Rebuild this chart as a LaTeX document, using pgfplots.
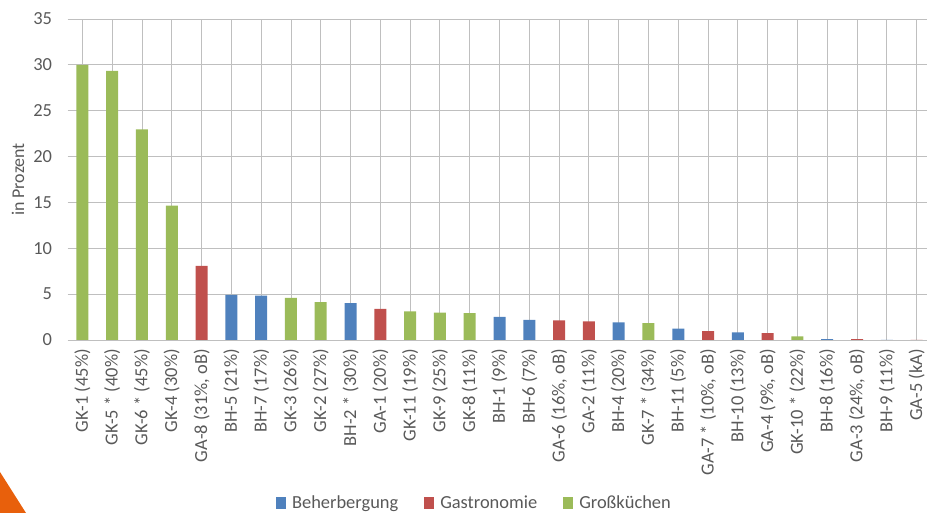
\documentclass[border=0pt]{standalone}
\usepackage{pgfplots}
\pgfplotsset{compat=1.18}
\usepackage{fontspec}
\setmainfont{Carlito}
\definecolor{txt}{HTML}{595959}
\definecolor{grid}{HTML}{D9D9D9}
\definecolor{cBH}{HTML}{4F81BD}
\definecolor{cGA}{HTML}{C0504D}
\definecolor{cGK}{HTML}{9BBB59}
\definecolor{deco}{HTML}{E8600C}
\begin{document}
\begin{tikzpicture}[x=1bp,y=1bp]
\useasboundingbox (0,0) rectangle (927,513);
% orange corner decoration
\fill[deco] (0,41) -- (26,0) -- (0,0) -- cycle;
\begin{axis}[
  at={(67.5bp,173bp)}, anchor=south west,
  scale only axis, width=864bp, height=321bp,
  xmin=-0.5, xmax=28.5, ymin=0, ymax=35,
  ytick={0,5,...,35},
  xtick={0,...,28},
  xticklabels={GK-1 (45\%), GK-5 * (40\%), GK-6 * (45\%), GK-4 (30\%), {GA-8 (31\%, oB)}, BH-5 (21\%), BH-7 (17\%), GK-3 (26\%), GK-2 (27\%), BH-2 * (30\%), GA-1 (20\%), GK-11 (19\%), GK-9 (25\%), GK-8 (11\%), BH-1 (9\%), BH-6 (7\%), {GA-6 (16\%, oB)}, GA-2 (11\%), BH-4 (20\%), GK-7 * (34\%), BH-11 (5\%), {GA-7 * (10\%, oB)}, BH-10 (13\%), {GA-4 (9\%, oB)}, GK-10 * (22\%), BH-8 (16\%), {GA-3 (24\%, oB)}, BH-9 (11\%), GA-5 (kA)},
  axis line style={draw=none},
  axis x line*=bottom,
  ymajorgrids, grid style={grid, line width=0.9bp},
  major tick length=0pt,
  tick label style={font=\fontsize{18.5}{19}\selectfont, text=txt},
  yticklabel style={xshift=-12bp},
  xticklabel style={yshift=-9bp, rotate=90, anchor=east, inner sep=0bp},
  /pgf/number format/assume math mode=true,
  ylabel={in Prozent},
  every axis y label/.style={at={(axis description cs:0,0.5)}, xshift=-49.5bp, rotate=90, anchor=center, font=\fontsize{18}{19}\selectfont, text=txt},
  ybar, bar width=12bp, bar shift=0pt,
  legend style={at={(axis description cs:0.471,-0.508)}, anchor=center, legend columns=3, draw=none, fill=none,
    font=\fontsize{18.5}{19}\selectfont, text=txt,
    /tikz/every odd column/.append style={column sep=4bp},
    /tikz/every even column/.append style={column sep=24bp}},
  legend image code/.code={\fill[#1] (0bp,-6bp) rectangle (10bp,6bp);},
]
\draw[grid, line width=0.9bp] (axis cs:-0.5,0) -- (axis cs:28.5,0);
\addplot[fill=cBH, draw=none] coordinates {
  (5,4.91) (6,4.84) (9,4.03) (14,2.51) (15,2.18) (18,1.93) (20,1.24) (22,0.83) (25,0.10) (27,0)};
\addplot[fill=cGA, draw=none] coordinates {
  (4,8.07) (10,3.38) (16,2.15) (17,2.04) (21,0.98) (23,0.76) (26,0.10) (28,0)};
\addplot[fill=cGK, draw=none] coordinates {
  (0,30.0) (1,29.33) (2,22.97) (3,14.65) (7,4.58) (8,4.14) (11,3.13) (12,2.98) (13,2.94) (19,1.85) (24,0.40)};
\legend{Beherbergung, Gastronomie, Großküchen}
\end{axis}
\end{tikzpicture}
\end{document}
